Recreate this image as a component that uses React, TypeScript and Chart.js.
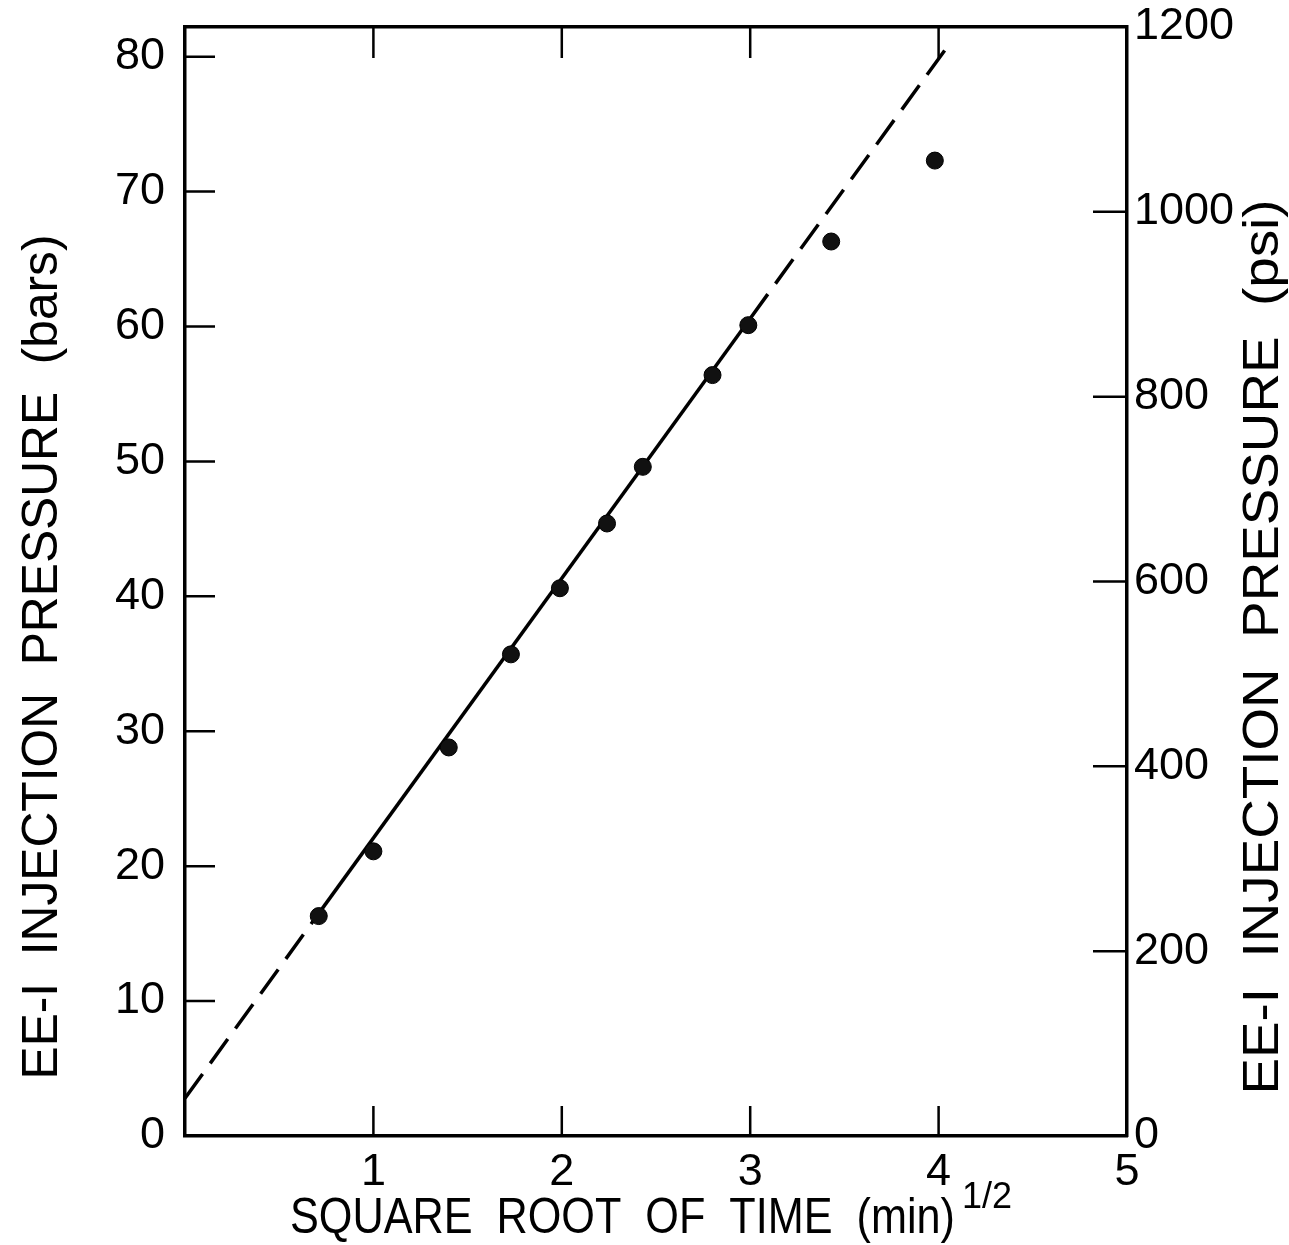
import React, { useEffect, useRef } from 'react';
import { Chart, registerables } from 'chart.js';

Chart.register(...registerables);

// ---- data ----
const sqrtTime = [0.71, 1.0, 1.4, 1.73, 1.99, 2.24, 2.43, 2.8, 2.99, 3.43, 3.98];
const pressureBars = [16.3, 21.1, 28.8, 35.7, 40.6, 45.4, 49.6, 56.4, 60.1, 66.3, 72.3];

const fitLowX = [0, 0.71];
const fitLowY = [2.8, 16.5];
const fitSolidX = [0.71, 3.0];
const fitSolidY = [16.5, 60.6];
const fitHighX = [3.0, 4.05];
const fitHighY = [60.6, 80.8];

const xTickValues = [0, 1, 2, 3, 4, 5];
const barTickValues = [0, 10, 20, 30, 40, 50, 60, 70, 80];
const psiTickValues = [0, 200, 400, 600, 800, 1000, 1200];

const xTitle = 'SQUARE  ROOT  OF  TIME  (min)';
const xTitleSup = '1/2';
const leftTitle = 'EE-I  INJECTION  PRESSURE  (bars)';
const rightTitle = 'EE-I  INJECTION  PRESSURE  (psi)';

const FONT = '"Liberation Sans", Arial, sans-serif';
const W = 1289;
const H = 1245;

const toPts = (xs: number[], ys: number[]) => xs.map((x, i) => ({ x, y: ys[i] }));

function drawFitted(
  ctx: CanvasRenderingContext2D,
  text: string,
  x: number,
  y: number,
  rot: number,
  size: number,
  targetW: number,
  align: CanvasTextAlign
) {
  ctx.save();
  ctx.translate(x, y);
  ctx.rotate(rot);
  ctx.font = `${size}px ${FONT}`;
  const w = ctx.measureText(text).width;
  ctx.scale(targetW / w, 1);
  ctx.textAlign = align;
  ctx.textBaseline = 'alphabetic';
  ctx.fillStyle = '#000';
  ctx.fillText(text, 0, 0);
  ctx.restore();
}

const decorations = {
  id: 'decorations',
  afterDraw(chart: any) {
    const { ctx, chartArea: a, scales } = chart;
    ctx.save();
    ctx.strokeStyle = '#000';
    ctx.lineWidth = 2.5;
    ctx.beginPath();
    for (const v of xTickValues) {
      if (v <= scales.x.min || v >= scales.x.max) continue;
      const px = scales.x.getPixelForValue(v);
      ctx.moveTo(px, a.bottom);
      ctx.lineTo(px, a.bottom - 30);
      ctx.moveTo(px, a.top);
      ctx.lineTo(px, a.top + 31);
    }
    for (const v of barTickValues) {
      if (v <= scales.y.min || v >= scales.y.max) continue;
      const py = scales.y.getPixelForValue(v);
      ctx.moveTo(a.left, py);
      ctx.lineTo(a.left + 30, py);
    }
    for (const v of psiTickValues) {
      if (v <= scales.y2.min || v >= scales.y2.max) continue;
      const py = scales.y2.getPixelForValue(v);
      ctx.moveTo(a.right, py);
      ctx.lineTo(a.right - 34, py);
    }
    ctx.stroke();
    ctx.restore();

    // axis titles
    drawFitted(ctx, leftTitle, 57, 657, -Math.PI / 2, 50, 845, 'center');
    drawFitted(ctx, rightTitle, 1278, 647, -Math.PI / 2, 50, 895, 'center');
    drawFitted(ctx, xTitle, 290, 1233, 0, 50, 665, 'left');
    ctx.save();
    ctx.font = `36px ${FONT}`;
    ctx.fillStyle = '#000';
    ctx.textAlign = 'left';
    ctx.textBaseline = 'alphabetic';
    ctx.fillText(xTitleSup, 962, 1208);
    ctx.restore();
  },
};

const tickFont = { family: FONT, size: 45 };
const plainLabel = (v: any) => String(v);

export default function App() {
  const ref = useRef<HTMLCanvasElement | null>(null);

  useEffect(() => {
    document.body.style.margin = '0';
    const canvas = ref.current;
    if (!canvas) return;
    const border = { display: true, color: '#000', width: 3.5 };
    const chart = new Chart(canvas, {
      type: 'scatter',
      data: {
        datasets: [
          {
            label: 'measured',
            data: toPts(sqrtTime, pressureBars),
            showLine: false,
            pointRadius: 8.5,
            pointBackgroundColor: '#111',
            pointBorderColor: '#000',
            pointBorderWidth: 1,
            xAxisID: 'x',
            yAxisID: 'y',
          },
          {
            label: 'fit',
            data: toPts(fitSolidX, fitSolidY),
            showLine: true,
            borderColor: '#000',
            borderWidth: 3.5,
            pointRadius: 0,
            xAxisID: 'x',
            yAxisID: 'y',
          },
          {
            label: 'fit low',
            data: toPts(fitLowX, fitLowY),
            showLine: true,
            borderColor: '#000',
            borderWidth: 3.5,
            borderDash: [30, 13],
            pointRadius: 0,
            xAxisID: 'x',
            yAxisID: 'y',
          },
          {
            label: 'fit high',
            data: toPts(fitHighX, fitHighY),
            showLine: true,
            borderColor: '#000',
            borderWidth: 3.5,
            borderDash: [30, 13],
            pointRadius: 0,
            xAxisID: 'x',
            yAxisID: 'y',
          },
        ],
      },
      options: {
        animation: false,
        responsive: false,
        layout: { padding: 0 },
        plugins: { legend: { display: false }, tooltip: { enabled: false } },
        scales: {
          x: {
            type: 'linear',
            position: 'bottom',
            min: 0,
            max: 5,
            afterBuildTicks: (s: any) => {
              s.ticks = xTickValues.map((v) => ({ value: v }));
            },
            afterFit: (s: any) => {
              s.height = H - 1136;
              s.paddingLeft = 0;
              s.paddingRight = 0;
            },
            ticks: {
              callback: (v: any) => (v === 0 ? '' : String(v)),
              font: tickFont,
              color: '#000',
              padding: 10,
              maxRotation: 0,
              autoSkip: false,
            },
            grid: { display: false, drawTicks: false },
            border,
          },
          x2: {
            type: 'linear',
            position: 'top',
            min: 0,
            max: 5,
            afterFit: (s: any) => {
              s.height = 27;
              s.paddingLeft = 0;
              s.paddingRight = 0;
            },
            ticks: { display: false },
            grid: { display: false, drawTicks: false },
            border,
          },
          y: {
            type: 'linear',
            position: 'left',
            min: 0,
            max: 82.2,
            afterBuildTicks: (s: any) => {
              s.ticks = barTickValues.map((v) => ({ value: v }));
            },
            afterFit: (s: any) => {
              s.width = 185;
              s.paddingTop = 0;
              s.paddingBottom = 0;
            },
            ticks: { callback: plainLabel, font: tickFont, color: '#000', padding: 20, autoSkip: false },
            grid: { display: false, drawTicks: false },
            border,
          },
          y2: {
            type: 'linear',
            position: 'right',
            min: 0,
            max: 1200,
            afterBuildTicks: (s: any) => {
              s.ticks = psiTickValues.map((v) => ({ value: v }));
            },
            afterFit: (s: any) => {
              s.width = W - 1127;
              s.paddingTop = 0;
              s.paddingBottom = 0;
            },
            ticks: { callback: plainLabel, font: tickFont, color: '#000', padding: 7, autoSkip: false },
            grid: { display: false, drawTicks: false },
            border,
          },
        },
      } as any,
      plugins: [decorations],
    });
    return () => chart.destroy();
  }, []);

  return (
    <div style={{ width: W, height: H, background: '#fff' }}>
      <canvas ref={ref} width={W} height={H} style={{ display: 'block', width: W, height: H }} />
    </div>
  );
}
